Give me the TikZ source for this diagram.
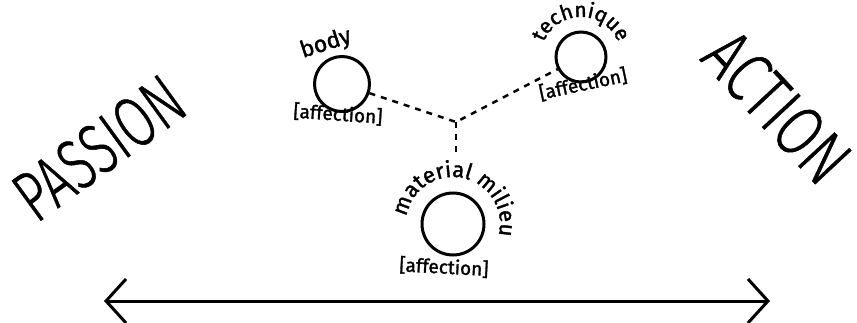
\documentclass[tikz,border=0pt]{standalone}
\usepackage{fontspec}
\setmainfont{Fira Sans}
\newfontfamily\hand[FakeBold=1.6]{Fira Sans}
\newfontfamily\thinfont[FakeBold=0.8]{Fira Sans Light}
\usetikzlibrary{arrows.meta,decorations.text,calc}
\begin{document}
\begin{tikzpicture}[x=1pt,y=-1pt,
  circ/.style={circle,draw,line width=3pt,inner sep=0pt},
  lbl/.style={font=\hand\fontsize{23}{23}\selectfont,inner sep=0pt},
  aff/.style={font=\hand\fontsize{19}{19}\selectfont,inner sep=0pt},
  big/.style={font=\thinfont\fontsize{72}{72}\selectfont,inner sep=0pt},
  link/.style={line width=2.5pt,dash pattern=on 6pt off 6pt},
  arc text/.style={postaction={decorate},decoration={text along path,text align=center,text={#1}}}]
\useasboundingbox (0,0) rectangle (857,323);
% circles
\node[circ,minimum size=55pt] (body) at (342,84) {};
\node[circ,minimum size=50pt] (tech) at (581,57) {};
\node[circ,minimum size=62pt] (mil) at (453,224) {};
% dashed links
\coordinate (j) at (456,122);
\coordinate (jd) at (456,158);
\draw[link] (body) -- (j) -- (tech);
\draw[link] (j) -- (jd);
% labels
\node[lbl,rotate=18] (bodyt) at (326,44) {body};
\path[arc text={|\hand\fontsize{21}{21}\selectfont|technique}]
  ($(tech)+(165:40pt)$) arc[start angle=165,end angle=15,radius=40pt];
\path[arc text={|\hand\fontsize{22}{22}\selectfont|material milieu}]
  ($(mil)+(185:47pt)$) arc[start angle=185,end angle=-28,radius=47pt];
\node[aff,rotate=-4] (a1) at (338,114) {[affection]};
\node[aff,rotate=12] (a2) at (583,84) {[affection]};
\node[aff,rotate=-3] (a3) at (444,267) {[affection]};
% big words
\node[big,rotate=36] (passion) at (99,148) {\scalebox{0.7}[1]{PASSION}};
\node[big,rotate=-47] (action) at (777,107) {\scalebox{0.76}[1]{ACTION}};
% arrow
\coordinate (al) at (104,301);
\coordinate (ar) at (770,301);
\draw[line width=3pt,{Straight Barb[length=20pt,width=44pt]}-{Straight Barb[length=20pt,width=44pt]}] (al) -- (ar);
\end{tikzpicture}
\end{document}
